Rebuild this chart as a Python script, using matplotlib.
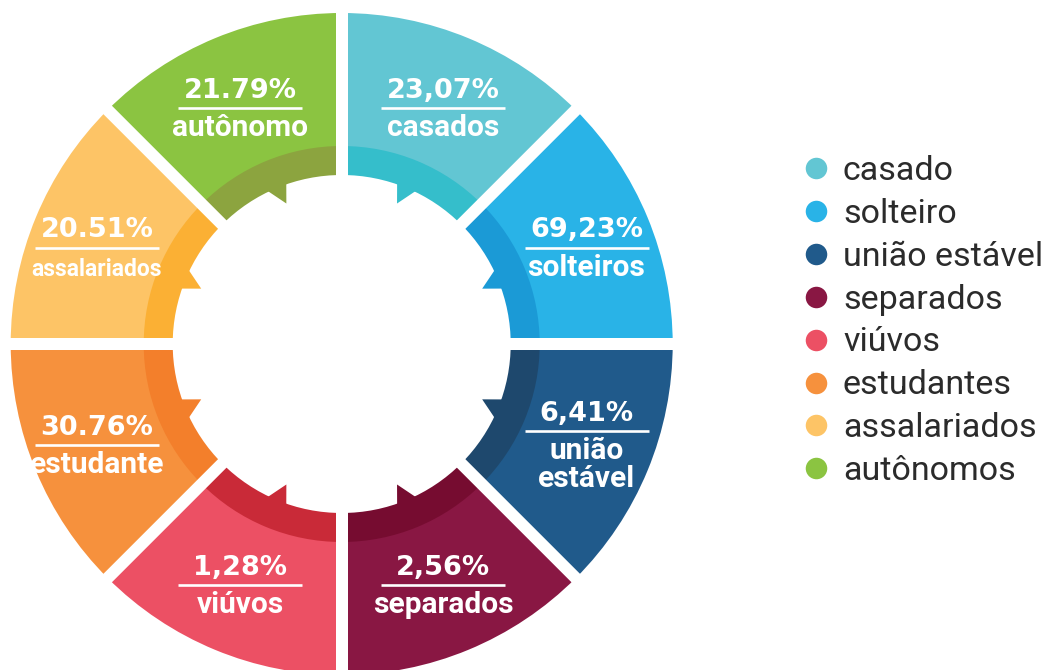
import matplotlib
matplotlib.use('Agg')
import matplotlib.pyplot as plt
import numpy as np
from matplotlib.patches import Polygon

# data (all 8 segments are drawn the same size)
categories = ['casado', 'solteiro', 'união estável', 'separados',
              'viúvos', 'estudantes', 'assalariados', 'autônomos']
shares = [1, 1, 1, 1, 1, 1, 1, 1]
pct_labels = ['23,07%', '69,23%', '6,41%', '2,56%', '1,28%', '30.76%', '20.51%', '21.79%']
seg_labels = ['casados', 'solteiros', 'união\nestável', 'separados',
              'viúvos', 'estudante', 'assalariados', 'autônomo']

outer_colors = ['#62C6D3', '#29B3E7', '#205A8B', '#891743',
                '#EC5064', '#F6913D', '#FDC466', '#8BC441']
inner_colors = ['#35BECB', '#1B9AD6', '#1E486D', '#760C30',
                '#C92A38', '#F37F2B', '#FBB034', '#8CA43F']

W, H = 1062, 670
cx, cy = 341.7, H - 344
R_OUT, R_MID, R_IN = 331, 197, 169


def pol(r, a, ry=None):
    a = np.radians(a)
    if ry is None:
        ry = r
    return cx + r * np.cos(a), cy + ry * np.sin(a)


fig = plt.figure(figsize=(W / 100, H / 100), dpi=100)
ax = fig.add_axes([0, 0, 1, 1])

outer, _ = ax.pie(shares, radius=R_OUT, center=(cx, cy), startangle=90,
                  counterclock=False, colors=outer_colors, frame=True,
                  wedgeprops=dict(width=R_OUT - R_MID, linewidth=0))
inner, _ = ax.pie(shares, radius=R_MID + 1, center=(cx, cy), startangle=90,
                  counterclock=False, colors=inner_colors, frame=True,
                  wedgeprops=dict(width=R_MID + 1 - R_IN, linewidth=0))

# little teeth on the inside of the ring
for w, c in zip(inner, inner_colors):
    m = (w.theta1 + w.theta2) / 2
    sk = 1 if m % 90 > 45 else -1
    pts = [pol(R_IN + 3, m - 3.7), pol(151, m + sk), pol(R_IN + 3, m + 3.7)]
    ax.add_patch(Polygon(pts, closed=True, facecolor=c, linewidth=0))

# white gaps between segments
for w in outer:
    x1, y1 = pol(R_OUT + 12, w.theta1)
    ax.plot([cx, x1], [cy, y1], color='white', lw=12 * 0.72, solid_capstyle='butt')

# labels inside segments
for w, pct, name in zip(outer, pct_labels, seg_labels):
    m = (w.theta1 + w.theta2) / 2
    lines = name.split('\n')
    lx, ly = pol(265, m, 258)
    ly = ly - 2.7 + 14 * (len(lines) - 1)   # underline position
    ax.plot([lx - 62, lx + 62], [ly, ly], color='white', lw=1.9, solid_capstyle='butt')
    ax.text(lx, ly + 10.5, pct, ha='center', va='baseline', fontsize=19.5,
            fontweight='bold', family='DejaVu Sans', color='white')
    for i, line in enumerate(lines):
        fs = 16.5 if len(line) > 10 else 21.5
        ax.text(lx, ly - 28 - 28 * i, line, ha='center', va='baseline', fontsize=fs,
                fontweight='bold', family='Roboto', color='white')

# legend
for i, (lab, c) in enumerate(zip(categories, outer_colors)):
    y = H - (168.3 + 42.86 * i)
    ax.scatter([816], [y], s=240, color=c, linewidths=0, zorder=3)
    ax.text(843, y - 11.7, lab, fontsize=24.5, family='Roboto', color='#2b2b2b',
            va='baseline', ha='left')

ax.set_xlim(0, W)
ax.set_ylim(0, H)
ax.axis('off')
fig.savefig('out.png', dpi=100)
